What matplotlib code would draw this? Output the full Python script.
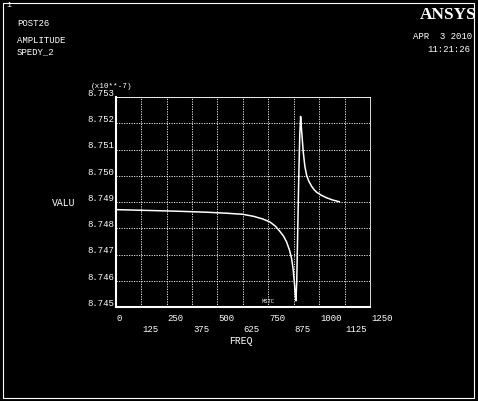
import matplotlib.pyplot as plt
import matplotlib.patches as patches
import matplotlib.transforms as mtransforms

# (values in units of 1e-7)
freq = [0, 150, 300, 450, 550, 626, 680, 724, 758, 785, 807, 825, 840,
        855, 865, 872, 878, 883, 886, 890, 894, 900, 905, 909, 913, 918,
        922, 930, 939, 950, 963, 975, 988, 1010, 1037, 1065, 1099]
valu = [8.74871, 8.74868, 8.74865, 8.74861, 8.74857, 8.74853, 8.74845,
        8.74835, 8.74824, 8.74808, 8.74788, 8.74770, 8.74748, 8.74715,
        8.74683, 8.74645, 8.74595, 8.74545, 8.74524, 8.74600, 8.74759,
        8.75000, 8.75160, 8.75226, 8.75180, 8.75130, 8.75090, 8.75035,
        8.75000, 8.74978, 8.74960, 8.74947, 8.74937, 8.74926, 8.74916,
        8.74908, 8.74901]

x_ticks = [0, 125, 250, 375, 500, 625, 750, 875, 1000, 1125, 1250]
y_ticks = [8.745, 8.746, 8.747, 8.748, 8.749, 8.750, 8.751, 8.752, 8.753]

mono = 'Liberation Mono'
W, H = 478, 402

fig = plt.figure(figsize=(W / 100, H / 100), dpi=100, facecolor='black')

# outer frame
fig.patches.append(patches.Rectangle((3 / W, 3 / H), 471 / W, 395 / H,
                                     transform=fig.transFigure, fill=False,
                                     edgecolor='white', lw=0.8))

ax = fig.add_axes([115.7 / W, 1 - 308 / H, (370 - 115.7) / W, (308 - 98) / H])
ax.set_facecolor('black')
ax.plot(freq, valu, color='white', lw=1.1)

ax.set_xlim(0, 1250)
ax.set_ylim(8.745, 8.753)
ax.set_xticks(x_ticks)
ax.set_yticks(y_ticks)
ax.set_xticklabels([])
ax.set_yticklabels([])
ax.tick_params(length=0)
ax.grid(True, color='white', ls=(0, (1.5, 1.5)), lw=0.6)

for side in ['top', 'right']:
    ax.spines[side].set_color('white')
    ax.spines[side].set_linewidth(0.6)
for side in ['left', 'bottom']:
    ax.spines[side].set_color('white')
    ax.spines[side].set_linewidth(1.5)

# x tick labels, alternating rows, left aligned at the tick
trans = mtransforms.blended_transform_factory(ax.transData, fig.transFigure)
for i, t in enumerate(x_ticks):
    ypix = 314 if i % 2 == 0 else 325
    ax.text(t + 5, 1 - ypix / H, str(t), transform=trans, color='white',
            fontsize=6.5, family=mono, ha='left', va='top')

# y tick labels sit just above their grid line
for v in y_ticks:
    ax.text(-8, v, '%.3f' % v, color='white', fontsize=6.5, family=mono,
            ha='right', va='bottom')

fig.text(112 / W, 1 - 86 / H, '(x10**-7)', color='white',
         fontsize=5.5, family=mono, ha='center', va='center')
ax.text(-0.16, 0.5, 'VALU', transform=ax.transAxes, color='white',
        fontsize=7, family=mono, ha='right', va='center')
fig.text(241 / W, 1 - 341 / H, 'FREQ', color='white',
         fontsize=7, family=mono, ha='center', va='center')
ax.text(0.6, 0.02, 'MSTC', transform=ax.transAxes, color='white',
        fontsize=4, family=mono, ha='center', va='bottom')

# header texts
fig.text(6 / W, 1 - 2 / H, '1', color='white', fontsize=6, family=mono,
         va='top')
fig.text(17 / W, 1 - 19 / H, 'POST26', color='white', fontsize=6.5,
         family=mono, va='top')
fig.text(17 / W, 1 - 36 / H, 'AMPLITUDE', color='white', fontsize=6.5,
         family=mono, va='top')
fig.text(17 / W, 1 - 47 / H, 'SPEDY_2', color='white', fontsize=6.5,
         family=mono, va='top')
fig.text(477 / W, 1 - 7 / H, 'ANSYS', color='white', fontsize=12.5,
         family='Liberation Serif', weight='bold', ha='right', va='top')
fig.text(472 / W, 1 - 32 / H, 'APR  3 2010', color='white', fontsize=6.5,
         family=mono, ha='right', va='top')
fig.text(470 / W, 1 - 45 / H, '11:21:26', color='white', fontsize=6.5,
         family=mono, ha='right', va='top')

fig.savefig('out.png', dpi=100, facecolor='black')
